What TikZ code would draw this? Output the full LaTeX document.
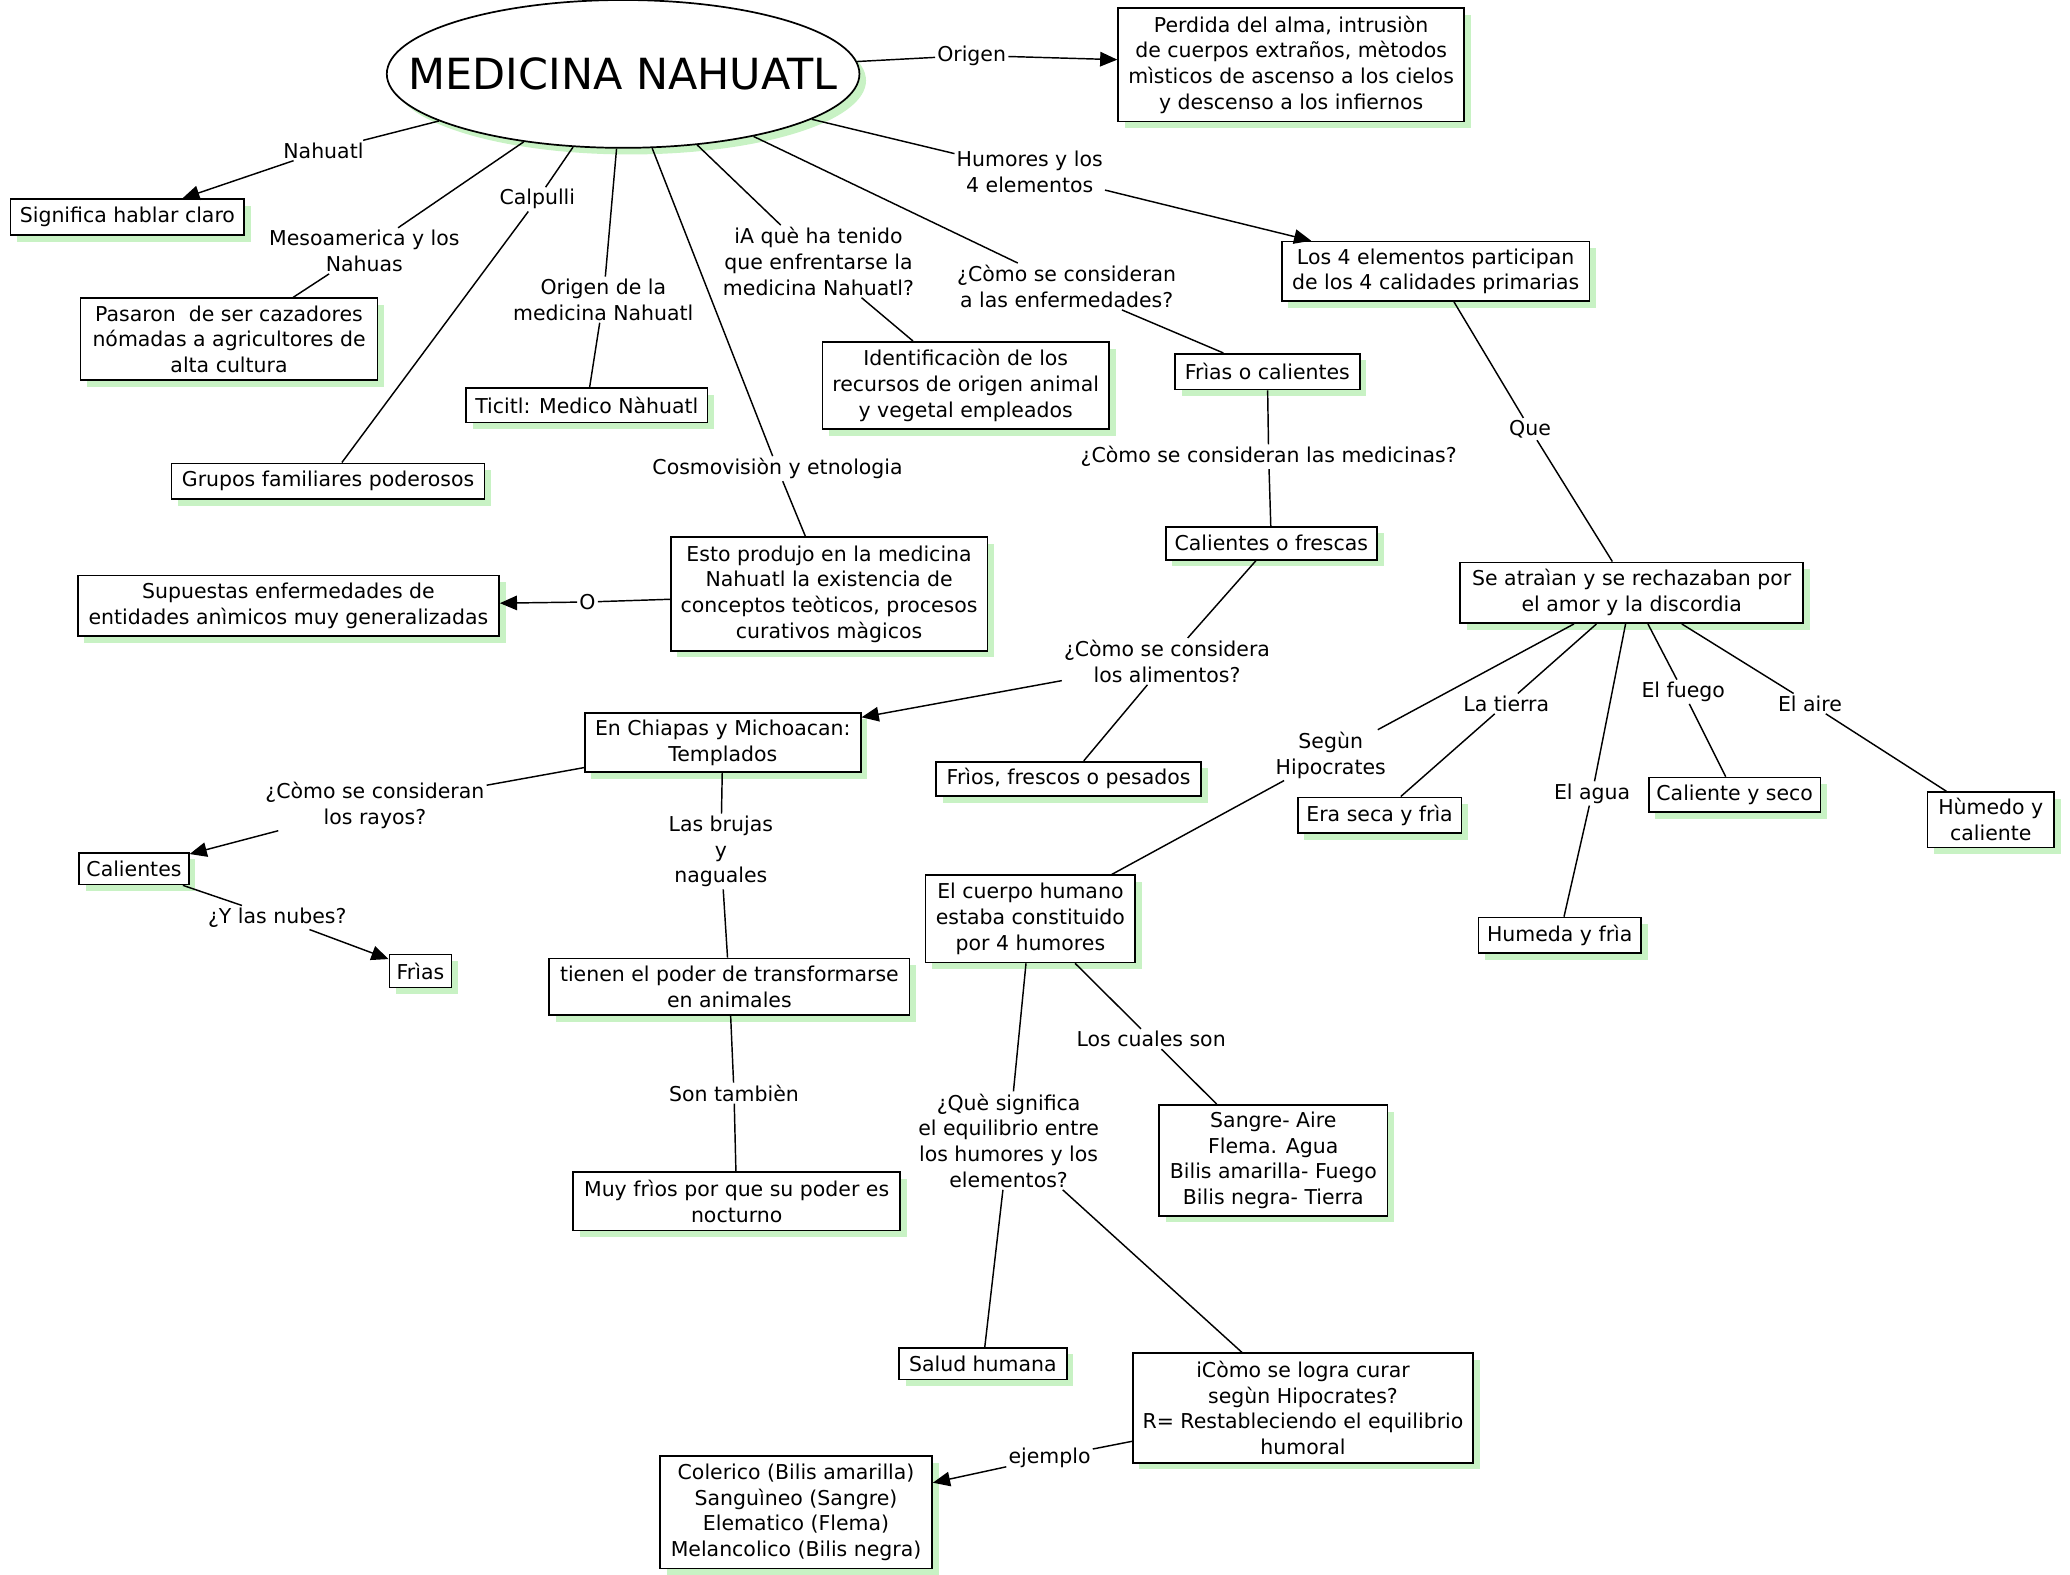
\documentclass[tikz,border=0pt]{standalone}
\usepackage{fontspec}
\setmainfont{DejaVu Sans}
\usetikzlibrary{shapes.geometric,shadows,arrows.meta}
\definecolor{shgreen}{RGB}{200,242,196}
\tikzset{
  box/.style={draw=black, line width=1.3pt, fill=white, align=center, inner xsep=5pt, inner ysep=4pt,
    drop shadow={shadow xshift=5pt, shadow yshift=-5pt, fill=shgreen, opacity=1}},
  lab/.style={align=center, inner sep=1.5pt, fill=none},
  conn/.style={line width=1.1pt},
  arr/.style={line width=1.1pt, -{Triangle[length=13pt,width=11pt]}},
}
\begin{document}
\begin{tikzpicture}[x=1pt,y=-1pt, font=\fontsize{15.5}{19.5}\selectfont]
\useasboundingbox (0,0) rectangle (1568,1193);

% main ellipse
\node[ellipse, draw=black, line width=1.3pt, fill=white, minimum width=358pt, minimum height=112pt, inner sep=0pt,
  drop shadow={shadow xshift=5pt, shadow yshift=-5pt, fill=shgreen, opacity=1},
  font=\fontsize{32.5}{36}\selectfont] (main) at (472,56) {\makebox[0pt]{MEDICINA NAHUATL}};

% boxes
\node[box, minimum width=262pt, minimum height=86pt] (perdida) at (978,49) {Perdida del alma, intrusiòn\\de cuerpos extraños, mètodos\\mìsticos de ascenso a los cielos\\y descenso a los infiernos};
\node[box, minimum width=177pt, minimum height=27pt] (signif) at (96.5,164.5) {Significa hablar claro};
\node[box, minimum width=225pt, minimum height=62pt] (pasaron) at (173.5,257) {Pasaron\ \ de ser cazadores\\nómadas a agricultores de\\alta cultura};
\node[box, minimum width=237pt, minimum height=27pt] (grupos) at (248.5,364.5) {Grupos familiares poderosos};
\node[box, minimum width=183pt, minimum height=26pt] (ticitl) at (444.5,307) {Ticitl: Medico Nàhuatl};
\node[box, minimum width=217pt, minimum height=66pt] (ident) at (731.5,292) {Identificaciòn de los\\recursos de origen animal\\y vegetal empleados};
\node[box, minimum width=140pt, minimum height=27pt] (frias) at (960,281.5) {Frìas o calientes};
\node[box, minimum width=160pt, minimum height=25pt] (calfres) at (963,411.5) {Calientes o frescas};
\node[box, minimum width=233pt, minimum height=45pt] (cuatro) at (1087.5,205.5) {Los 4 elementos participan\\de los 4 calidades primarias};
\node[box, minimum width=260pt, minimum height=46pt] (atraian) at (1236,449) {Se atraìan y se rechazaban por\\el amor y la discordia};
\node[box, minimum width=240pt, minimum height=86pt] (esto) at (628,450) {Esto produjo en la medicina\\Nahuatl la existencia de\\conceptos teòticos, procesos\\curativos màgicos};
\node[box, minimum width=319pt, minimum height=46pt] (supuestas) at (218.5,459) {Supuestas enfermedades de\\entidades anìmicos muy generalizadas};
\node[box, minimum width=209pt, minimum height=45pt] (chiapas) at (547.5,562.5) {En Chiapas y Michoacan:\\Templados};
\node[box, minimum width=201pt, minimum height=26pt] (frios) at (809.5,590) {Frìos, frescos o pesados};
\node[box, minimum width=124pt, minimum height=27pt] (seca) at (1045,617.5) {Era seca y frìa};
\node[box, minimum width=130pt, minimum height=26pt] (calseco) at (1314,602) {Caliente y seco};
\node[box, minimum width=96pt, minimum height=42pt] (humedo) at (1508,621) {Hùmedo y\\caliente};
\node[box, minimum width=123pt, minimum height=27pt] (humeda) at (1181.5,708.5) {Humeda y frìa};
\node[box, minimum width=83pt, minimum height=24pt] (calientes) at (101.5,658) {Calientes};
\node[box, minimum width=47pt, minimum height=25pt] (friasb) at (318.5,735.5) {Frìas};
\node[box, minimum width=273pt, minimum height=43pt] (tienen) at (552.5,747.5) {tienen el poder de transformarse\\en animales};
\node[box, minimum width=248pt, minimum height=44pt] (muy) at (558,910) {Muy frìos por que su poder es\\nocturno};
\node[box, minimum width=159pt, minimum height=66pt] (cuerpo) at (780.5,696) {El cuerpo humano\\estaba constituido\\por 4 humores};
\node[box, minimum width=173pt, minimum height=84pt] (sangre) at (964.5,879) {Sangre- Aire\\Flema. Agua\\Bilis amarilla- Fuego\\Bilis negra- Tierra};
\node[box, minimum width=127pt, minimum height=24pt] (salud) at (744.5,1033) {Salud humana};
\node[box, minimum width=258pt, minimum height=83pt] (como) at (987,1066.5) {iCòmo se logra curar\\segùn Hipocrates?\\R= Restableciendo el equilibrio\\humoral};
\node[box, minimum width=206pt, minimum height=85pt] (colerico) at (603,1145.5) {Colerico (Bilis amarilla)\\Sanguìneo (Sangre)\\Elematico (Flema)\\Melancolico (Bilis negra)};

% labels
\node[lab] (lorigen) at (736,42) {Origen};
\node[lab] (lnahuatl) at (245,114) {Nahuatl};
\node[lab] (lmeso) at (276,190) {Mesoamerica y los\\Nahuas};
\node[lab] (lcalpulli) at (407,151) {Calpulli};
\node[lab] (lorigenmed) at (457,227) {Origen de la\\medicina Nahuatl};
\node[lab] (laque) at (620,198) {iA què ha tenido\\que enfrentarse la\\medicina Nahuatl?};
\node[lab] (lcosmo) at (589,355) {Cosmovisiòn y etnologia};
\node[lab] (lhumores) at (780,130) {Humores y los\\4 elementos};
\node[lab] (lenferm) at (808,217) {¿Còmo se consideran\\a las enfermedades?};
\node[lab] (lmedic) at (961,346) {¿Còmo se consideran las medicinas?};
\node[lab] (lalim) at (884,501) {¿Còmo se considera\\los alimentos?};
\node[lab] (lque) at (1159,325) {Que};
\node[lab] (lo) at (445,456) {O};
\node[lab] (lrayos) at (284,610) {¿Còmo se consideran\\los rayos?};
\node[lab] (lnubes) at (210,695) {¿Y las nubes?};
\node[lab] (lbrujas) at (546,645) {Las brujas\\y\\naguales};
\node[lab] (lson) at (556,828) {Son tambièn};
\node[lab] (lsegun) at (1008,572) {Segùn\\Hipocrates};
\node[lab] (ltierra) at (1141,533) {La tierra};
\node[lab] (lagua) at (1206,601) {El agua};
\node[lab] (lfuego) at (1275,524) {El fuego};
\node[lab] (laire) at (1371,533) {El aire};
\node[lab] (lcuales) at (872,787) {Los cuales son};
\node[lab] (lsignif) at (764,864) {¿Què significa\\el equilibrio entre\\los humores y los\\elementos?};
\node[lab] (lejemplo) at (795,1104) {ejemplo};

% connectors
\draw[conn] (main) -- (lorigen);
\draw[arr] (lorigen) -- (perdida);
\draw[conn] (main) -- (lnahuatl);
\draw[arr] (lnahuatl) -- (signif);
\draw[conn] (main) -- (lmeso);
\draw[conn] (lmeso) -- (pasaron);
\draw[conn] (main) -- (lcalpulli);
\draw[conn] (lcalpulli) -- (grupos);
\draw[conn] (main) -- (lorigenmed);
\draw[conn] (lorigenmed) -- (ticitl);
\draw[conn] (main) -- (lcosmo);
\draw[conn] (lcosmo) -- (esto);
\draw[conn] (main) -- (laque);
\draw[conn] (laque) -- (ident);
\draw[conn] (main) -- (lenferm);
\draw[conn] (lenferm) -- (frias);
\draw[conn] (main) -- (lhumores);
\draw[arr] (lhumores) -- (cuatro);
\draw[conn] (cuatro) -- (lque);
\draw[conn] (lque) -- (atraian);
\draw[conn] (frias) -- (lmedic);
\draw[conn] (lmedic) -- (calfres);
\draw[conn] (calfres) -- (lalim);
\draw[arr] (lalim) -- (chiapas);
\draw[conn] (lalim) -- (frios);
\draw[conn] (esto) -- (lo);
\draw[arr] (lo) -- (supuestas);
\draw[conn] (chiapas) -- (lrayos);
\draw[arr] (lrayos) -- (calientes);
\draw[conn] (calientes) -- (lnubes);
\draw[arr] (lnubes) -- (friasb);
\draw[conn] (chiapas) -- (lbrujas);
\draw[conn] (lbrujas) -- (tienen);
\draw[conn] (tienen) -- (lson);
\draw[conn] (lson) -- (muy);
\draw[conn] (atraian) -- (lsegun);
\draw[conn] (lsegun) -- (cuerpo);
\draw[conn] (atraian) -- (ltierra);
\draw[conn] (ltierra) -- (seca);
\draw[conn] (atraian) -- (lagua);
\draw[conn] (lagua) -- (humeda);
\draw[conn] (atraian) -- (lfuego);
\draw[conn] (lfuego) -- (calseco);
\draw[conn] (atraian) -- (laire);
\draw[conn] (laire) -- (humedo);
\draw[conn] (cuerpo) -- (lcuales);
\draw[conn] (lcuales) -- (sangre);
\draw[conn] (cuerpo) -- (lsignif);
\draw[conn] (lsignif) -- (salud);
\draw[conn] (lsignif) -- (como);
\draw[conn] (como) -- (lejemplo);
\draw[arr] (lejemplo) -- (colerico);
\end{tikzpicture}
\end{document}
